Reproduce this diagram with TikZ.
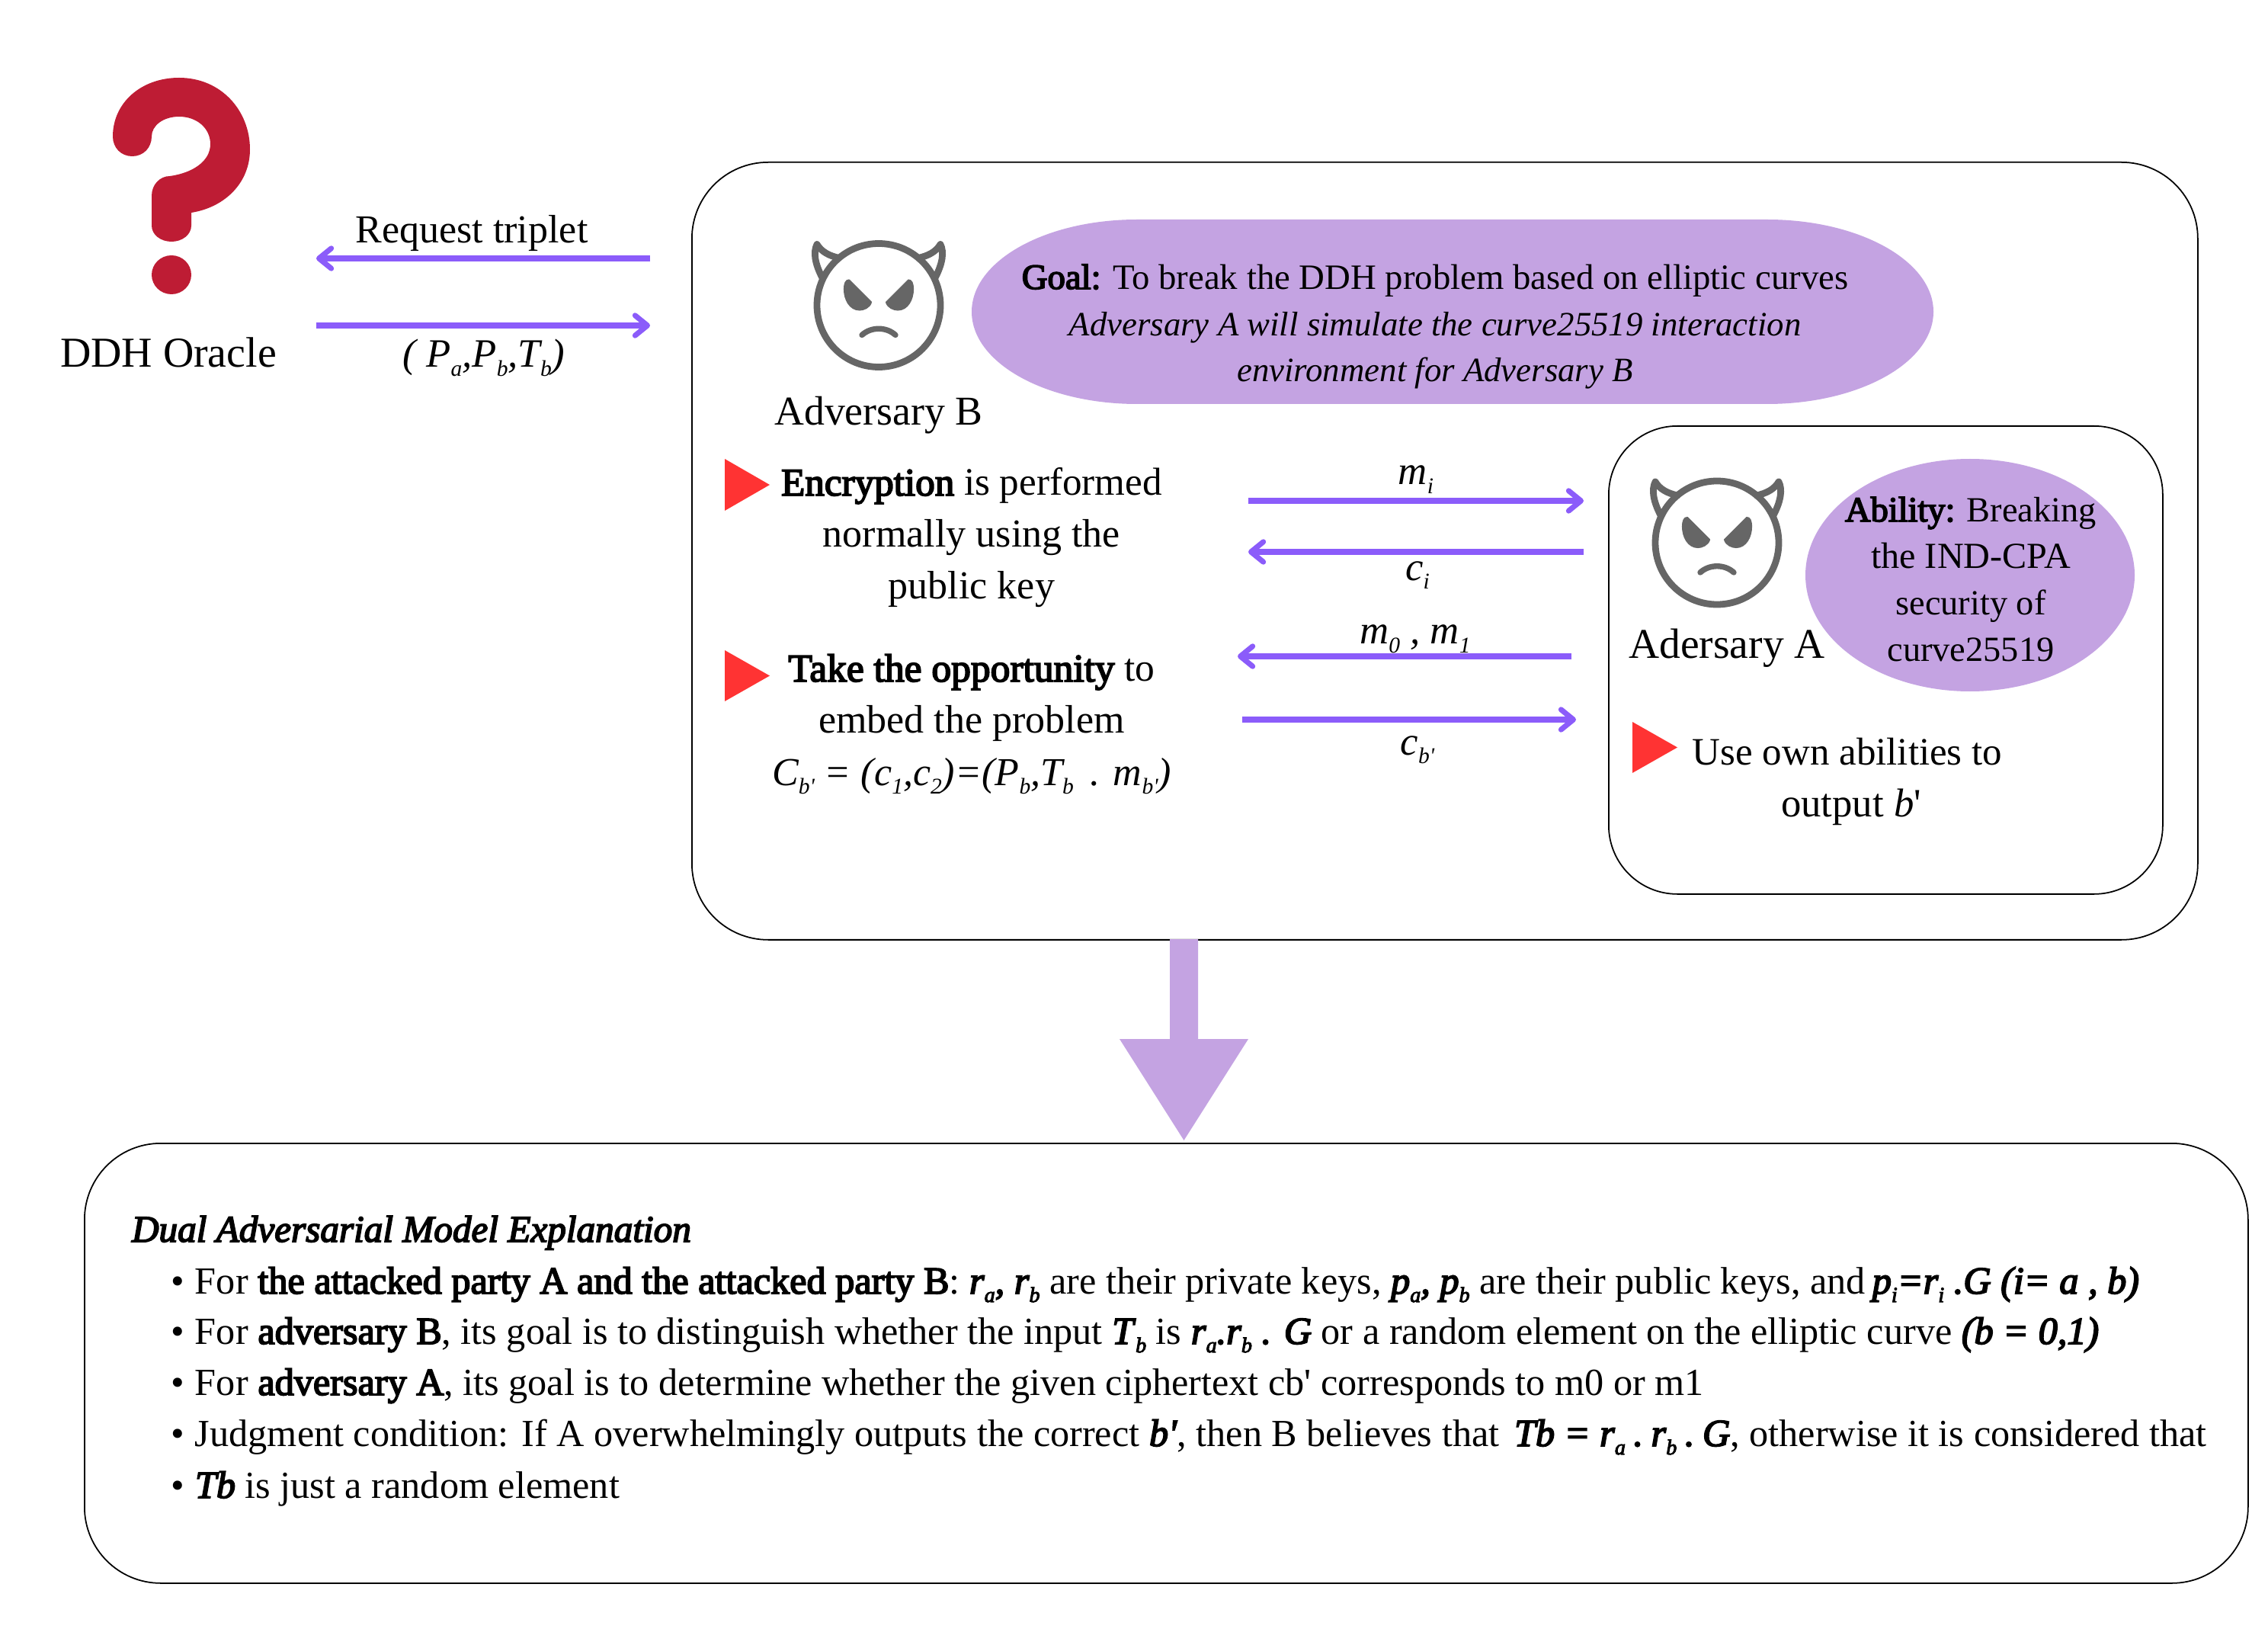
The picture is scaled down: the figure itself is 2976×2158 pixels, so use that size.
\documentclass[tikz,border=0pt]{standalone}
\usepackage{fontspec}
\setmainfont{Liberation Serif}[Ligatures=TeXOff,
  BoldFont={Liberation Serif},BoldFeatures={FakeBold=3.5},
  BoldItalicFont={Liberation Serif Italic},BoldItalicFeatures={FakeBold=3.5}]
\usetikzlibrary{arrows.meta}
\definecolor{lilac}{HTML}{C4A3E2}
\definecolor{violetline}{HTML}{8B5CFA}
\definecolor{redtri}{HTML}{FF3333}
\definecolor{qred}{HTML}{BE1C34}
\definecolor{devilgrey}{HTML}{666666}
\newcommand\mysub[1]{\raisebox{-0.22em}{\fontsize{8.4}{10}\selectfont\itshape #1}}
\newcommand\mybsub[1]{\raisebox{-0.22em}{\fontsize{8.0}{10}\selectfont\bfseries\itshape #1}}
\newcommand\sq{{\char39\relax}}
\newcommand\bi[1]{\textbf{\textit{#1}}}
\newcommand\itl[1]{{\fontsize{12.75}{17.35}\selectfont\itshape #1}}
\newcommand\thinsp{\hspace{0.21em}}
\tikzset{
  x=0.1mm,y=-0.1mm,
  roundbox/.style={draw=black,line width=0.5pt,rounded corners=1cm,inner sep=0pt,anchor=north west},
  flow/.style={draw=violetline,line width=2pt,-{Straight Barb[length=4.6pt,width=7.5pt,round]}},
  txt/.style={inner sep=0pt,outer sep=0pt,anchor=base,align=center,font=\fontsize{14.8}{19.35}\selectfont},
  tight/.style={txt,font=\fontsize{13.3}{17.35}\selectfont},
  lbl/.style={txt,font=\fontsize{15.3}{18}\selectfont},
  exline/.style={inner sep=0pt,outer sep=0pt,anchor=base west,font=\fontsize{14.3}{16}\selectfont},
  redmark/.style={fill=redtri,draw=none},
  devil/.pic={
    \draw[devilgrey,line width=2.5pt] (0,0) circle (81);
    \foreach \s in {1,-1}{
      \draw[devilgrey,line width=2.5pt,line join=round,line cap=round]
        (\s*74,-36) .. controls (\s*84,-55) and (\s*86,-70) .. (\s*81,-80)
        .. controls (\s*75,-70) and (\s*65,-65) .. (\s*52,-62);
      \fill[devilgrey,draw=devilgrey,line width=0.6pt,line join=round]
        (\s*39,-33) -- (\s*10,-4) .. controls (\s*12,3) and (\s*20,6) .. (\s*25,6)
        .. controls (\s*38,6) and (\s*45,-8) .. (\s*45,-21)
        .. controls (\s*45,-29) and (\s*43,-33) .. (\s*39,-33) -- cycle;
    }
    \draw[devilgrey,line width=2.1pt,line cap=round]
      (-22,39) .. controls (-10,28) and (10,28) .. (22,39);
  }
}
\begin{document}
\begin{tikzpicture}
\useasboundingbox (0,0) rectangle (2976,2158);

% question mark
\fill[qred] (148,179) .. controls (148,135) and (185,102) .. (235,102)
  .. controls (290,102) and (328,145) .. (328,196)
  .. controls (328,240) and (295,272) .. (251,279) -- (251,296)
  .. controls (251,308) and (239,317) .. (225,317)
  .. controls (211,317) and (199,308) .. (199,296) -- (199,257)
  .. controls (199,242) and (210,231) .. (223,231)
  .. controls (252,227) and (276,212) .. (276,189)
  .. controls (276,168) and (258,153) .. (235,153)
  .. controls (214,153) and (199,165) .. (199,179)
  .. controls (199,194) and (188,205) .. (173.5,205)
  .. controls (159,205) and (148,194) .. (148,179) -- cycle;
\fill[qred] (225,360.5) ellipse (26 and 25.5);
\node[txt,font=\fontsize{15.9}{18}\selectfont] (oracle) at (221,482) {DDH Oracle};

% boxes
\node[roundbox,minimum width=19.76cm,minimum height=10.2cm] (bigbox) at (907,212) {};
\node[roundbox,minimum width=7.27cm,minimum height=6.14cm,rounded corners=0.9cm] (innerbox) at (2110,558) {};
\node[roundbox,minimum width=28.39cm,minimum height=5.77cm] (explain) at (110,1499) {};

% goal and ability shapes
\fill[lilac] (1275,409) .. controls (1275,342) and (1372,288) .. (1492,288) -- (2319,288)
  .. controls (2439,288) and (2537,342) .. (2537,409)
  .. controls (2537,476) and (2439,530) .. (2319,530) -- (1492,530)
  .. controls (1372,530) and (1275,476) .. (1275,409) -- cycle;
\fill[lilac] (2585,754.5) ellipse (216 and 152.5);

% big down arrow
\fill[lilac] (1535,1232) -- (1572,1232) -- (1572,1363) -- (1638,1363) -- (1553.5,1496)
  -- (1469,1363) -- (1535,1363) -- cycle;

% devils
\pic at (1153,400.5) {devil};
\pic at (2253,712) {devil};

% red markers
\fill[redmark] (951,602) -- (1010,636) -- (951,670) -- cycle;
\fill[redmark] (951,853) -- (1010,886.5) -- (951,920) -- cycle;
\fill[redmark] (2142,947) -- (2201,980.5) -- (2142,1014) -- cycle;

% connectors
\coordinate (oracleR) at (415,339); \coordinate (bigR) at (853,339);
\coordinate (oracleT) at (415,427); \coordinate (bigT) at (853,427);
\coordinate (miL) at (1638,657);  \coordinate (miR) at (2078,657);
\coordinate (ciL) at (1638,724);  \coordinate (ciR) at (2078,724);
\coordinate (mmL) at (1624,861);  \coordinate (mmR) at (2062,861);
\coordinate (cbL) at (1630,944);  \coordinate (cbR) at (2068,944);
\draw[flow] (bigR) -- (oracleR);
\draw[flow] (oracleT) -- (bigT);
\draw[flow] (miL) -- (miR);
\draw[flow] (ciR) -- (ciL);
\draw[flow] (mmR) -- (mmL);
\draw[flow] (cbL) -- (cbR);

% labels
\node[txt] (req) at (619,319) {Request triplet};
\node[txt,font=\fontsize{15}{18}\itshape] (tuple) at (635,482) {( P\mysub{a},P\mysub{b},T\mysub{b})};
\node[lbl] (advb) at (1153,558) {Adversary B};
\node[tight] (goal) at (1883,501) {\textbf{Goal:} To break the DDH problem based on elliptic curves\\
  \itl{Adversary A will simulate the curve25519 interaction}\\
  \itl{environment for Adversary B}};
\node[txt] (enc) at (1275,786) {{\fontsize{14.55}{19.35}\selectfont\textbf{Encryption} is performed}\\normally using the\\public key};
\node[txt] (take) at (1275,1030) {{\fontsize{14.65}{19.35}\selectfont\textbf{Take the opportunity} to}\\embed the problem\\
  \textit{C\mysub{b\sq} = (c\mysub{1},c\mysub{2})=(P\mysub{b},T\mysub{b}\, . m\mysub{b\sq})}};
\node[txt,font=\fontsize{15}{18}\itshape] (mi) at (1858,636) {m\mysub{i}};
\node[txt,font=\fontsize{15}{18}\itshape] (ci) at (1860,761) {c\mysub{i}};
\node[txt,font=\fontsize{15}{18}\itshape] (mm) at (1857,845) {m\mysub{0} , m\mysub{1}};
\node[txt,font=\fontsize{15}{18}\itshape] (cb) at (1860,990) {c\mysub{b\sq}};
\node[lbl,font=\fontsize{15.8}{18}\selectfont] (adra) at (2266,864) {Adersary A};
\node[tight,font=\fontsize{13.2}{17.35}\selectfont] (abil) at (2586,867) {\textbf{Ability:} Breaking\\{\fontsize{13.7}{17.35}\selectfont the IND-CPA}\\security of\\curve25519};
\node[txt,font=\fontsize{14.5}{18}\selectfont] (use1) at (2424,1003) {Use own abilities to};
\node[txt,font=\fontsize{15}{18}\selectfont] (use2) at (2429,1071) {output \textit{b}\sq};

% explanation text
\node[exline,font=\fontsize{14.0}{16}\bfseries\itshape] (extitle) at (173,1629) {Dual Adversarial Model Explanation};
\node[exline] (ex1) at (224,1697) {\makebox[3.2mm][l]{•}For \textbf{the attacked party A and the attacked party B}: \bi{r}\mybsub{a}\bi{,} \bi{r}\mybsub{b} are their private keys, \bi{p}\mybsub{a}\bi{,} \bi{p}\mybsub{b} are their public keys, and\hspace{-1pt} \bi{p}\mybsub{i}\bi{=r}\mybsub{i} \bi{.G (i= a , b)}};
\node[exline] (ex2) at (224,1763) {\makebox[3.2mm][l]{•}For \textbf{adversary B}, its goal is to distinguish whether the input \bi{T}\mybsub{b} is \bi{r}\mybsub{a}\bi{.r}\mybsub{b} \bi{. G} or a random element on the elliptic curve \bi{(b = 0,1)}};
\node[exline] (ex3) at (224,1830) {\makebox[3.2mm][l]{•}For \textbf{adversary A}, its goal is to determine whether the given ciphertext cb\sq{} corresponds to m0 or m1};
\node[exline] (ex4) at (224,1897) {\makebox[3.2mm][l]{•}Judgment condition: If A overwhelmingly outputs the correct \bi{b\sq}, then B believes that\hspace{2pt} \bi{Tb = r}\mybsub{a}\thinsp\bi{.\thinsp r}\mybsub{b}\thinsp\bi{.\thinsp G}, otherwise it is considered that};
\node[exline] (ex5) at (224,1965) {\makebox[3.2mm][l]{•}\bi{Tb} is just a random element};
\end{tikzpicture}
\end{document}
